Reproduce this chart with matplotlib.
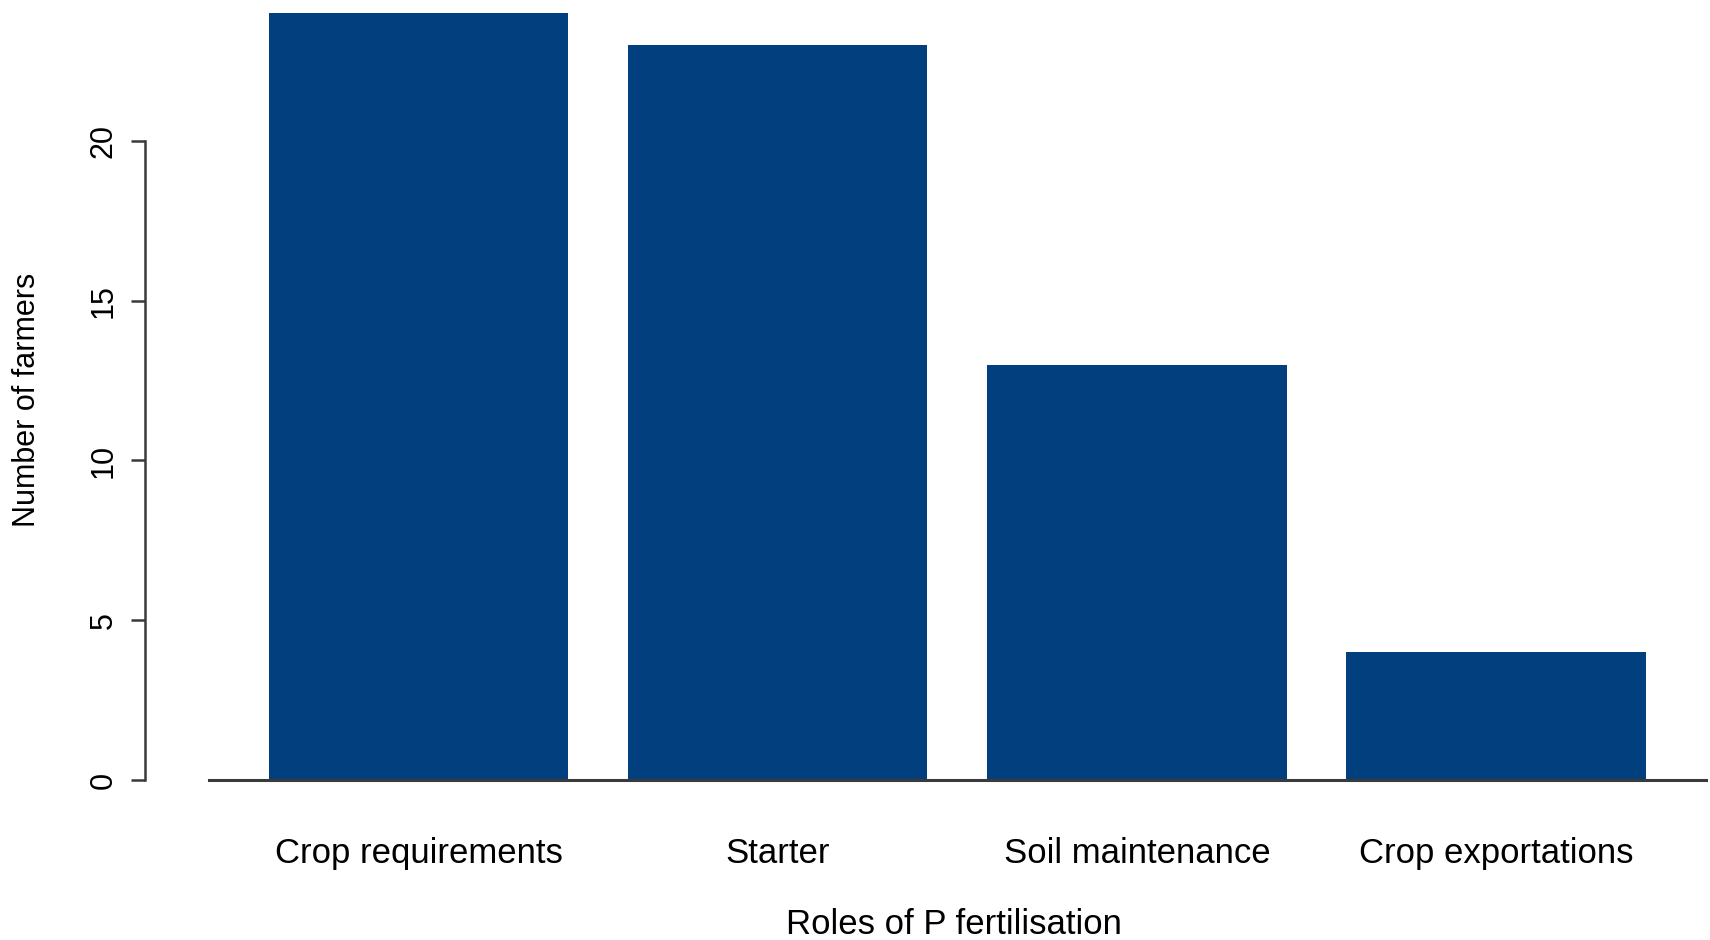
import matplotlib

matplotlib.use("Agg")
import matplotlib.pyplot as plt
import numpy as np

roles = ["Crop requirements", "Starter", "Soil maintenance", "Crop exportations"]
n_farmers = [24, 23, 13, 4]
y_ticks = [0, 5, 10, 15, 20]

BAR_COLOR = "#023f7f"
LINE_COLOR = "#3a3a3a"

plt.rcParams["font.family"] = ["Liberation Sans", "DejaVu Sans"]

fig = plt.figure(figsize=(17.1, 9.4), dpi=100)
# axes box in pixels: left edge on the y axis line, bottom on the zero line
ax = fig.add_axes([145 / 1710, 160 / 940, 1 - 145 / 1710, 780 / 940])

# R barplot layout: width 1, space 0.2
x = 0.7 + 1.2 * np.arange(len(roles))
ax.bar(x, n_farmers, width=1.0, color=BAR_COLOR, edgecolor="none")

ax.set_xlim(-0.214, 5.015)
ax.set_ylim(0, 24.41)

for side in ["top", "right", "bottom"]:
    ax.spines[side].set_visible(False)
ax.spines["left"].set_bounds(0, 20)
ax.spines["left"].set_color(LINE_COLOR)
ax.spines["left"].set_linewidth(1.8)

# baseline under the bars
ax.plot([0, 5], [0, 0], color=LINE_COLOR, lw=2.2, clip_on=False, zorder=3)

ax.set_yticks(y_ticks)
ax.set_yticklabels([str(t) for t in y_ticks], rotation=90, va="center", fontsize=22)
ax.tick_params(axis="y", length=10, width=1.8, color=LINE_COLOR, pad=9)

ax.set_xticks(x)
ax.set_xticklabels(roles, fontsize=25)
ax.tick_params(axis="x", length=0, pad=41)

fig.text(954 / 1710, 1 - 925 / 940, "Roles of P fertilisation", fontsize=25,
         ha="center", va="center")
fig.text(27 / 1710, 1 - 400 / 940, "Number of farmers", fontsize=22,
         rotation=90, ha="center", va="center")

fig.savefig("out.png", dpi=100)
